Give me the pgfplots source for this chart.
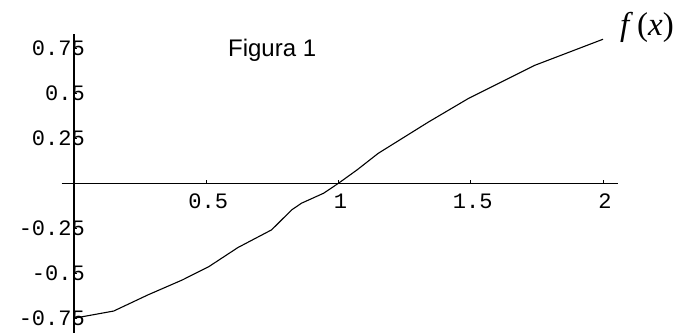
\documentclass[border=0pt]{standalone}
\usepackage{fontspec}
\setmainfont{Liberation Sans}
\setmonofont{Liberation Mono}
\newfontfamily\serifit{Liberation Serif}
\usepackage{pgfplots}
\pgfplotsset{compat=1.18}

\begin{document}
\begin{tikzpicture}
\begin{axis}[
    x=264.5pt, y=180pt,
    axis lines=middle,
    axis line style={-, line width=1.3pt},
    xmin=-0.0465, xmax=2.057,
    ymin=-0.832, ymax=0.829,
    xtick={0.5,1,1.5,2},
    xticklabels={0.5,1,1.5,2},
    ytick={-0.75,-0.5,-0.25,0.25,0.5,0.75},
    yticklabels={-0.75,-0.5,-0.25,0.25,0.5,0.75},
    tick align=inside,
    major tick length=3pt,
    tick style={black, line width=1pt},
    tick label style={font=\ttfamily\fontsize{22}{22}\selectfont, inner sep=0pt},
    xticklabel style={anchor=base, xshift=2pt, yshift=-25pt},
    yticklabel style={anchor=base east, xshift=11pt, yshift=-7pt},
    clip=false,
]

% curve
\addplot[black, line width=1.1pt] coordinates {
    (0,-0.75) (0.15,-0.71) (0.28,-0.62) (0.41,-0.537) (0.51,-0.463)
    (0.62,-0.357) (0.747,-0.259) (0.823,-0.148) (0.86,-0.111)
    (0.943,-0.056) (1.0,0) (1.07,0.074) (1.15,0.166) (1.34,0.34)
    (1.49,0.47) (1.74,0.654) (2,0.80)
};

\node[font=\fontsize{24}{24}\selectfont, anchor=base] at (axis cs:0.749,0.702) {Figura 1};
\node[font=\serifit\fontsize{33}{33}\selectfont] at (axis cs:2.166,0.868)
    {\textit{f}\kern4pt(\textit{x})};

\coordinate (bl) at (axis cs:-0.2798,-0.832);
\coordinate (tr) at (axis cs:2.291,1.018);
\end{axis}
\pgfresetboundingbox
\path[use as bounding box] (bl) rectangle (tr);
\end{tikzpicture}
\end{document}
